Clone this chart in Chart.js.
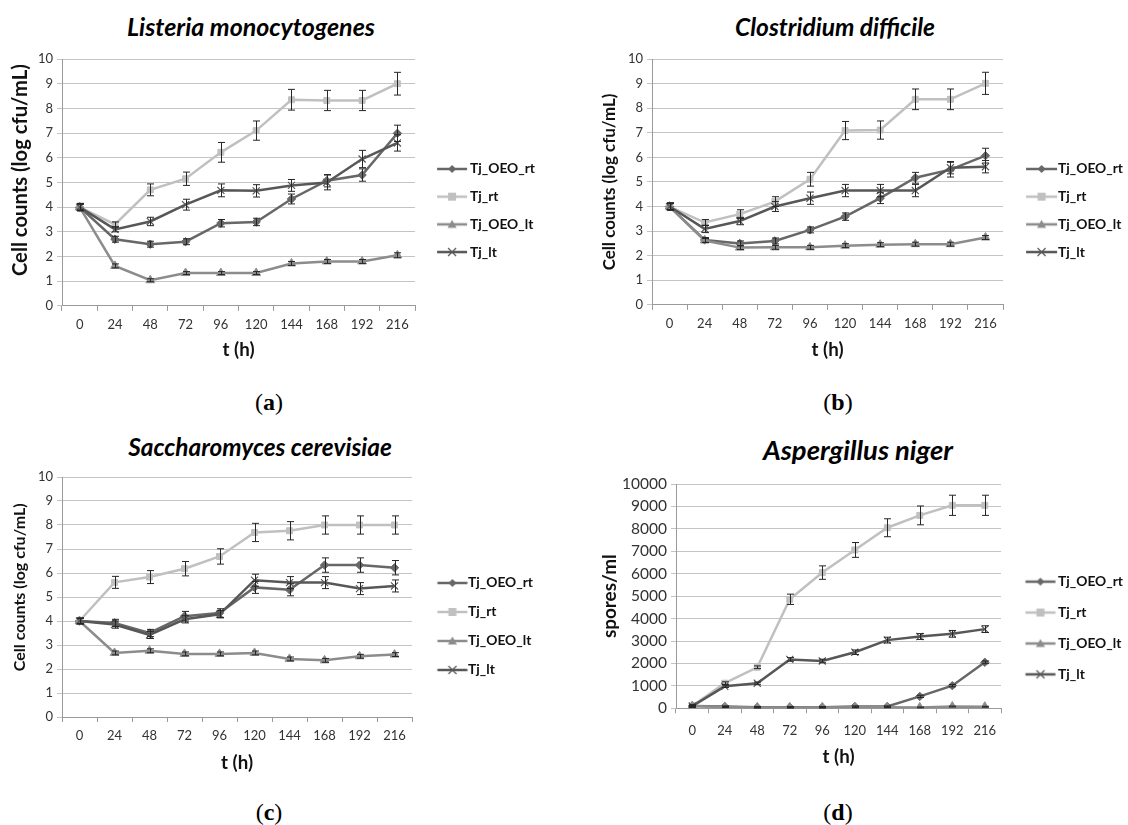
<!DOCTYPE html>
<html>
<head>
<meta charset="utf-8">
<script src="https://cdn.jsdelivr.net/npm/chart.js@4.4.1/dist/chart.umd.min.js"></script>
<style>
  body { margin: 0; width: 1128px; height: 825px; overflow: hidden; background: #fff; position: relative; }
  canvas { position: absolute; }
  .ttl { position: absolute; transform: translate(-50%, -50%); font: italic bold 25px Lato, sans-serif; white-space: nowrap; color: #000; }
  .cap { position: absolute; transform: translate(-50%, -50%); font: 24px 'Liberation Serif', serif; color: #000; }
</style>
</head>
<body>
<div class="ttl" id="ta" style="left:251px;top:26px">Listeria monocytogenes</div>
<div class="ttl" id="tb" style="left:835px;top:26px">Clostridium difficile</div>
<div class="ttl" id="tc" style="left:260px;top:446px">Saccharomyces cerevisiae</div>
<div class="ttl" id="td" style="left:858px;top:449px">Aspergillus niger</div>
<div class="cap" style="left:269px;top:402px">(<b>a</b>)</div>
<div class="cap" style="left:838px;top:402px">(<b>b</b>)</div>
<div class="cap" style="left:269px;top:812px">(<b>c</b>)</div>
<div class="cap" style="left:838px;top:812px">(<b>d</b>)</div>
<canvas id="ca"></canvas>
<canvas id="cb"></canvas>
<canvas id="cc"></canvas>
<canvas id="cd"></canvas>
<script>
var hours = ['0', '24', '48', '72', '96', '120', '144', '168', '192', '216'];
var seriesNames = ['Tj_OEO_rt', 'Tj_rt', 'Tj_OEO_lt', 'Tj_lt'];

// (a) Listeria monocytogenes
var a_oeo_rt = [4.0, 2.7, 2.5, 2.6, 3.35, 3.4, 4.33, 5.07, 5.3, 6.99];
var a_rt     = [4.0, 3.3, 4.7, 5.15, 6.22, 7.1, 8.35, 8.32, 8.32, 9.0];
var a_oeo_lt = [4.0, 1.62, 1.04, 1.33, 1.33, 1.33, 1.72, 1.8, 1.8, 2.05];
var a_lt     = [4.0, 3.1, 3.42, 4.1, 4.68, 4.66, 4.88, 5.0, 5.95, 6.6];
var a_oeo_rt_err = [0.12, 0.12, 0.12, 0.12, 0.15, 0.15, 0.2, 0.25, 0.25, 0.33];
var a_rt_err     = [0.15, 0.1, 0.24, 0.27, 0.4, 0.39, 0.42, 0.41, 0.41, 0.46];
var a_oeo_lt_err = [0.12, 0.08, 0.06, 0.06, 0.06, 0.06, 0.08, 0.08, 0.08, 0.1];
var a_lt_err     = [0.15, 0.1, 0.17, 0.22, 0.26, 0.25, 0.24, 0.3, 0.35, 0.33];

// (b) Clostridium difficile
var b_oeo_rt = [4.0, 2.64, 2.5, 2.6, 3.05, 3.59, 4.34, 5.17, 5.5, 6.07];
var b_rt     = [4.0, 3.35, 3.69, 4.2, 5.11, 7.09, 7.11, 8.36, 8.36, 9.01];
var b_oeo_lt = [4.0, 2.62, 2.33, 2.34, 2.34, 2.41, 2.45, 2.47, 2.47, 2.74];
var b_lt     = [4.0, 3.09, 3.41, 4.0, 4.34, 4.65, 4.65, 4.65, 5.58, 5.62];
var b_oeo_rt_err = [0.12, 0.1, 0.1, 0.12, 0.12, 0.15, 0.22, 0.22, 0.3, 0.3];
var b_rt_err     = [0.15, 0.12, 0.18, 0.2, 0.28, 0.37, 0.37, 0.42, 0.42, 0.45];
var b_oeo_lt_err = [0.12, 0.08, 0.08, 0.08, 0.08, 0.08, 0.08, 0.08, 0.08, 0.08];
var b_lt_err     = [0.15, 0.15, 0.15, 0.2, 0.25, 0.25, 0.25, 0.25, 0.25, 0.25];

// (c) Saccharomyces cerevisiae
var c_oeo_rt = [4.0, 3.92, 3.5, 4.2, 4.33, 5.4, 5.3, 6.33, 6.33, 6.22];
var c_rt     = [4.0, 5.61, 5.83, 6.18, 6.69, 7.69, 7.76, 8.0, 8.0, 8.0];
var c_oeo_lt = [4.0, 2.67, 2.76, 2.63, 2.63, 2.67, 2.42, 2.36, 2.53, 2.6];
var c_lt     = [4.0, 3.85, 3.42, 4.07, 4.28, 5.7, 5.6, 5.6, 5.35, 5.46];
var c_oeo_rt_err = [0.12, 0.15, 0.15, 0.2, 0.18, 0.25, 0.25, 0.3, 0.3, 0.3];
var c_rt_err     = [0.12, 0.25, 0.27, 0.3, 0.32, 0.38, 0.38, 0.38, 0.38, 0.38];
var c_oeo_lt_err = [0.1, 0.08, 0.08, 0.08, 0.08, 0.08, 0.08, 0.08, 0.08, 0.08];
var c_lt_err     = [0.12, 0.15, 0.15, 0.15, 0.15, 0.25, 0.25, 0.25, 0.25, 0.25];

// (d) Aspergillus niger
var d_oeo_rt = [100, 80, 50, 50, 50, 80, 80, 530, 1010, 2050];
var d_rt     = [100, 1120, 1830, 4860, 6050, 7060, 8050, 8600, 9050, 9050];
var d_oeo_lt = [100, 60, 40, 40, 40, 50, 50, 40, 80, 70];
var d_lt     = [100, 980, 1120, 2180, 2110, 2500, 3040, 3200, 3320, 3530];
var d_oeo_rt_err = [40, 30, 30, 30, 30, 30, 30, 50, 50, 60];
var d_rt_err     = [50, 60, 60, 230, 300, 330, 400, 420, 450, 450];
var d_oeo_lt_err = [30, 20, 20, 20, 20, 20, 20, 20, 20, 20];
var d_lt_err     = [50, 50, 50, 80, 80, 100, 130, 130, 150, 150];

var colors = ['#676767', '#c0c0c0', '#8c8c8c', '#575757'];
var markers = ['rectRot', 'rect', 'triangle', 'crossRot'];

Chart.defaults.font.family = 'Lato, sans-serif';
Chart.defaults.color = '#333';

var mctx = document.createElement('canvas').getContext('2d');
// font size that makes a text as wide as it is in the picture
function fitSize(text, font, target) {
  mctx.font = font + ' 100px Lato';
  return 100 * target / mctx.measureText(text).width;
}
function textW(text, font, size) {
  mctx.font = font + ' ' + size + 'px Lato';
  return mctx.measureText(text).width;
}

[['ta', 248], ['tb', 200], ['tc', 264], ['td', 190]].forEach(function(t) {
  var el = document.getElementById(t[0]);
  el.style.fontSize = fitSize(el.textContent, 'italic bold', t[1]).toFixed(1) + 'px';
});

var fs = fitSize('Tj_OEO_rt', 'bold', 65); // legend font size
var tickSize = 13;
var xTitleSize = fitSize('t (h)', 'bold', 32);
var maxTextW = Math.max.apply(null, seriesNames.map(function(s) { return textW(s, 'bold', fs); }));

// little line + marker picture for the legend
function legendIcon(k, w, ls, le) {
  var cv = document.createElement('canvas');
  cv.width = w; cv.height = 12;
  var c = cv.getContext('2d');
  c.strokeStyle = colors[k]; c.fillStyle = colors[k];
  c.lineWidth = 2.5;
  c.beginPath(); c.moveTo(ls, 6); c.lineTo(le, 6); c.stroke();
  var m = (ls + le) / 2;
  c.beginPath();
  if (k == 0) { c.moveTo(m, 2); c.lineTo(m + 4, 6); c.lineTo(m, 10); c.lineTo(m - 4, 6); c.fill(); }
  if (k == 1) { c.fillRect(m - 4, 2, 8, 8); }
  if (k == 2) { c.moveTo(m, 1.5); c.lineTo(m + 4.5, 9.5); c.lineTo(m - 4.5, 9.5); c.fill(); }
  if (k == 3) { c.lineWidth = 1.2; c.moveTo(m - 4, 2); c.lineTo(m + 4, 10); c.moveTo(m + 4, 2); c.lineTo(m - 4, 10); c.stroke(); }
  return cv;
}

var errorBars = {
  id: 'errorBars',
  afterDatasetsDraw: function(chart) {
    var ctx = chart.ctx, y = chart.scales.y;
    ctx.save();
    ctx.strokeStyle = '#262626';
    ctx.lineWidth = 1;
    chart.data.datasets.forEach(function(ds, i) {
      chart.getDatasetMeta(i).data.forEach(function(pt, j) {
        var v = ds.data[j], e = ds.errors[j];
        var top = y.getPixelForValue(v + e), bot = y.getPixelForValue(v - e);
        var x = Math.round(pt.x) + 0.5;
        ctx.beginPath();
        ctx.moveTo(x, top); ctx.lineTo(x, bot);
        ctx.moveTo(x - 3.5, top); ctx.lineTo(x + 3.5, top);
        ctx.moveTo(x - 3.5, bot); ctx.lineTo(x + 3.5, bot);
        ctx.stroke();
      });
    });
    ctx.restore();
  }
};

function makePanel(id, g, data, errs, yMax, yStep, yTitle) {
  var padT = 19;
  var y0 = g.ct - padT;
  var p = g.sp - fs;
  var bottom = 2 * (g.ly - fs / 2) - p + 4 * (fs + p) - g.ct;
  var H = bottom + padT - y0;
  var boxW = g.tx - fs / 2 - (g.cr + p);
  var iconCenter = g.cr + p + boxW / 2;
  var iconW = 2 * Math.max(iconCenter - g.ls, g.le - iconCenter) + 6;
  var iconLeft = iconCenter - iconW / 2;
  var legendW = p + boxW + fs / 2 + maxTextW + 10;
  var W = Math.ceil(g.cr - g.x0 + legendW);

  var ySize = fitSize(yTitle, 'bold', g.ytw);
  var padL = g.yt - g.x0 - ySize * 0.6;
  // shift the axis title up the axis by padding it with leading spaces
  var nSp = Math.round(2 * g.yoff / textW(' ', 'bold', ySize));
  var yText = new Array(nSp + 1).join(' ') + yTitle;
  var yTickSize = g.ytick ? fitSize(String(yMax), 'normal', g.ytick) : tickSize;

  var cv = document.getElementById(id);
  cv.width = W; cv.height = H;
  cv.style.left = g.x0 + 'px'; cv.style.top = y0 + 'px';

  var datasets = data.map(function(d, k) {
    return {
      label: seriesNames[k], data: d, errors: errs[k], order: 4 - k,
      borderColor: colors[k], backgroundColor: colors[k], borderWidth: 2.5,
      pointStyle: markers[k], pointRadius: k == 3 ? 5 : (k == 2 ? 5 : 4.2),
      pointBorderWidth: k == 3 ? 1.2 : 1, tension: 0
    };
  });

  new Chart(cv, {
    type: 'line',
    data: { labels: hours, datasets: datasets },
    plugins: [errorBars],
    options: {
      responsive: false, animation: false, devicePixelRatio: 1,
      layout: { padding: { top: padT, bottom: padT, left: padL, right: 0 } },
      plugins: {
        tooltip: { enabled: false },
        legend: {
          position: 'right',
          labels: {
            usePointStyle: true, pointStyleWidth: boxW, padding: p,
            font: { size: fs, weight: 'bold' }, color: '#111',
            sort: function(a, b) { return a.datasetIndex - b.datasetIndex; },
            generateLabels: function(chart) {
              return seriesNames.map(function(s, k) {
                return {
                  text: s, datasetIndex: k, fontColor: '#111', lineWidth: 0,
                  strokeStyle: 'transparent', fillStyle: colors[k],
                  pointStyle: legendIcon(k, iconW, g.ls - iconLeft, g.le - iconLeft)
                };
              });
            }
          }
        }
      },
      scales: {
        x: {
          offset: true,
          grid: { offset: true, drawOnChartArea: false, drawTicks: true, tickLength: 5, color: '#9a9a9a' },
          border: { color: '#9a9a9a' },
          ticks: { font: { size: tickSize }, padding: g.xp, maxRotation: 0, autoSkip: false },
          title: { display: true, text: 't (h)', font: { size: xTitleSize, weight: 'bold' }, color: '#111', padding: { top: 0, bottom: bottom - g.xt - xTitleSize * 0.6 } },
          afterFit: function(s) { s.height = bottom - g.cb; }
        },
        y: {
          min: 0, max: yMax,
          grid: { color: '#c4c4c4', tickLength: 5 },
          border: { color: '#9a9a9a' },
          ticks: { stepSize: yStep, autoSkip: false, font: { size: yTickSize }, padding: 4, callback: function(v) { return String(v); } },
          title: { display: true, text: yText, font: { size: ySize, weight: 'bold' }, color: '#111', padding: 0 },
          afterFit: function(s) { s.width = g.cl - g.x0 - padL; }
        }
      }
    }
  });
}

makePanel('ca', { x0: 0, cl: 62, cr: 415, ct: 59, cb: 306, ly: 169, sp: 27.7, ls: 437, le: 467, tx: 470, yt: 20, ytw: 212, yoff: 13, xp: 6, xt: 350 },
  [a_oeo_rt, a_rt, a_oeo_lt, a_lt], [a_oeo_rt_err, a_rt_err, a_oeo_lt_err, a_lt_err], 10, 1, 'Cell counts (log cfu/mL)');
makePanel('cb', { x0: 560, cl: 652, cr: 1003, ct: 59, cb: 305, ly: 169, sp: 27.7, ls: 1026, le: 1057, tx: 1058, yt: 610, ytw: 177, yoff: 0, xp: 6, xt: 350 },
  [b_oeo_rt, b_rt, b_oeo_lt, b_lt], [b_oeo_rt_err, b_rt_err, b_oeo_lt_err, b_lt_err], 10, 1, 'Cell counts (log cfu/mL)');
makePanel('cc', { x0: 0, cl: 62, cr: 412, ct: 477, cb: 717, ly: 583, sp: 29, ls: 437, le: 467, tx: 468, yt: 20, ytw: 168, yoff: 10, xp: 6, xt: 763 },
  [c_oeo_rt, c_rt, c_oeo_lt, c_lt], [c_oeo_rt_err, c_rt_err, c_oeo_lt_err, c_lt_err], 10, 1, 'Cell counts (log cfu/mL)');
makePanel('cd', { x0: 560, cl: 676, cr: 1001, ct: 484, cb: 709, ly: 582, sp: 30.9, ls: 1025, le: 1055, tx: 1058, yt: 610, ytw: 84, yoff: 0, ytick: 45, xp: 10, xt: 758 },
  [d_oeo_rt, d_rt, d_oeo_lt, d_lt], [d_oeo_rt_err, d_rt_err, d_oeo_lt_err, d_lt_err], 10000, 1000, 'spores/ml');
</script>
</body>
</html>
